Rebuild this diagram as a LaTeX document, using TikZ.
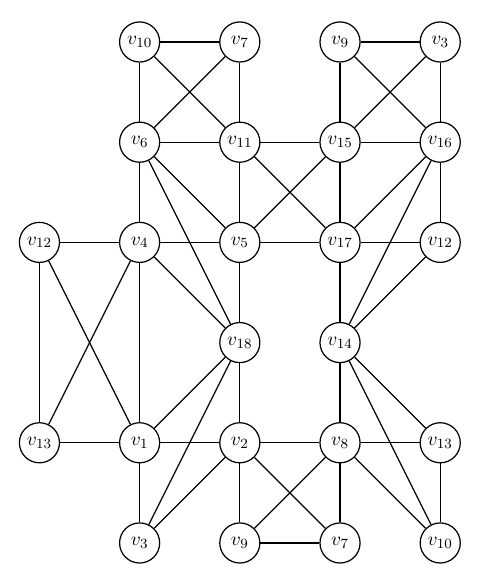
\documentclass[tikz,border=0pt]{standalone}
\begin{document}
\begin{tikzpicture}[
  vtx/.style={circle, draw, line width=0.7pt, minimum size=0.8cm, inner sep=0pt, fill=white, font=\fontsize{11}{13}\selectfont},
  edge/.style={line width=0.7pt}
]
\useasboundingbox (-0.787,-0.739) rectangle (8.737,10.838);
% row 0 (y=10)
\node[vtx] (v10a) at (2,10) {$v_{10}$};
\node[vtx] (v7a) at (4,10) {$v_{7}$};
\node[vtx] (v9a) at (6,10) {$v_{9}$};
\node[vtx] (v3a) at (8,10) {$v_{3}$};
% row 1 (y=8)
\node[vtx] (v6) at (2,8) {$v_{6}$};
\node[vtx] (v11) at (4,8) {$v_{11}$};
\node[vtx] (v15) at (6,8) {$v_{15}$};
\node[vtx] (v16) at (8,8) {$v_{16}$};
% row 2 (y=6)
\node[vtx] (v12a) at (0,6) {$v_{12}$};
\node[vtx] (v4) at (2,6) {$v_{4}$};
\node[vtx] (v5) at (4,6) {$v_{5}$};
\node[vtx] (v17) at (6,6) {$v_{17}$};
\node[vtx] (v12b) at (8,6) {$v_{12}$};
% row 3 (y=4)
\node[vtx] (v18) at (4,4) {$v_{18}$};
\node[vtx] (v14) at (6,4) {$v_{14}$};
% row 4 (y=2)
\node[vtx] (v13a) at (0,2) {$v_{13}$};
\node[vtx] (v1) at (2,2) {$v_{1}$};
\node[vtx] (v2) at (4,2) {$v_{2}$};
\node[vtx] (v8) at (6,2) {$v_{8}$};
\node[vtx] (v13b) at (8,2) {$v_{13}$};
% row 5 (y=0)
\node[vtx] (v3b) at (2,0) {$v_{3}$};
\node[vtx] (v9b) at (4,0) {$v_{9}$};
\node[vtx] (v7b) at (6,0) {$v_{7}$};
\node[vtx] (v10b) at (8,0) {$v_{10}$};
\foreach \a/\b in {v10a/v7a, v10a/v6, v10a/v11, v7a/v6, v7a/v11,
  v9a/v3a, v9a/v15, v9a/v16, v3a/v15, v3a/v16,
  v6/v11, v11/v15, v15/v16,
  v6/v4, v6/v5, v6/v18, v11/v5, v11/v17, v15/v5, v15/v17,
  v16/v17, v16/v12b, v16/v14,
  v12a/v4, v4/v5, v5/v17, v17/v12b,
  v12a/v13a, v12a/v1, v4/v13a, v4/v1, v4/v18, v5/v18,
  v17/v14, v12b/v14,
  v18/v1, v18/v2, v18/v3b,
  v14/v8, v14/v13b, v14/v10b,
  v13a/v1, v1/v2, v2/v8, v8/v13b,
  v1/v3b, v2/v3b, v2/v9b, v2/v7b, v8/v9b, v8/v7b, v8/v10b,
  v13b/v10b, v9b/v7b}
  \draw[edge] (\a) -- (\b);
\end{tikzpicture}
\end{document}
